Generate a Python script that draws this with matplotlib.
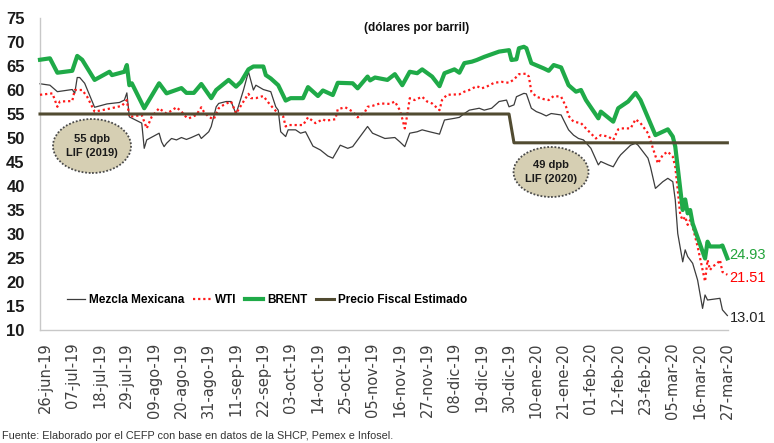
import matplotlib
matplotlib.use("Agg")
import matplotlib.pyplot as plt
from matplotlib.patches import Ellipse
from matplotlib import font_manager
import pandas as pd

# ---------------- data ----------------
brent_dates = ['2019-06-24','2019-06-28','2019-07-01','2019-07-07','2019-07-09','2019-07-11','2019-07-16',
 '2019-07-22','2019-07-23','2019-07-28','2019-07-29','2019-07-30','2019-07-31','2019-08-05','2019-08-11',
 '2019-08-14','2019-08-20','2019-08-22','2019-08-25','2019-08-28','2019-09-01','2019-09-03','2019-09-08',
 '2019-09-11','2019-09-13','2019-09-16','2019-09-18','2019-09-22','2019-09-23','2019-09-25','2019-09-28',
 '2019-10-01','2019-10-03','2019-10-08','2019-10-10','2019-10-14','2019-10-16','2019-10-20','2019-10-22',
 '2019-10-28','2019-10-30','2019-11-03','2019-11-04','2019-11-06','2019-11-11','2019-11-14','2019-11-17',
 '2019-11-20','2019-11-23','2019-11-25','2019-11-29','2019-12-02','2019-12-04','2019-12-08','2019-12-10',
 '2019-12-12','2019-12-15','2019-12-17','2019-12-20','2019-12-26','2019-12-30','2019-12-31','2020-01-02',
 '2020-01-03','2020-01-05','2020-01-06','2020-01-08','2020-01-13','2020-01-15','2020-01-17','2020-01-20',
 '2020-01-23','2020-01-26','2020-01-28','2020-01-30','2020-02-04','2020-02-05','2020-02-10','2020-02-12',
 '2020-02-16','2020-02-19','2020-02-21','2020-02-27','2020-03-03','2020-03-05','2020-03-06','2020-03-09',
 '2020-03-10','2020-03-11','2020-03-12','2020-03-13','2020-03-18','2020-03-19','2020-03-20','2020-03-24',
 '2020-03-25','2020-03-27']
brent_vals = [66.3,66.6,63.6,64.0,67.1,66.3,62.1,
 63.8,63.1,63.8,65.2,61.0,61.4,56.2,61.4,
 59.3,60.4,59.4,59.4,61.25,58.3,60.0,62.1,
 60.7,61.7,64.3,64.9,64.9,63.1,62.4,61.0,
 57.8,58.3,58.3,60.6,58.75,59.9,58.95,61.5,
 61.4,60.35,62.8,62.0,62.6,62.1,63.3,61.0,
 63.8,63.5,64.3,62.8,60.8,63.5,64.3,63.6,
 65.6,65.9,66.25,66.9,68.0,68.3,66.25,66.4,
 68.7,69.0,68.7,65.6,64.5,64.0,65.2,64.7,
 61.0,59.65,60.0,57.9,54.1,55.5,53.4,56.2,
 57.6,59.4,57.9,50.6,51.8,50.3,48.2,35.0,
 37.2,34.3,35.0,32.2,24.9,28.4,27.4,27.4,
 27.6,24.93]

wti_dates = ['2019-06-24','2019-06-29','2019-07-01','2019-07-02','2019-07-07','2019-07-08','2019-07-11',
 '2019-07-13','2019-07-16','2019-07-21','2019-07-27','2019-07-29','2019-07-30','2019-08-04','2019-08-06',
 '2019-08-08','2019-08-11','2019-08-12','2019-08-14','2019-08-16','2019-08-18','2019-08-20','2019-08-22',
 '2019-08-23','2019-08-26','2019-08-28','2019-08-29','2019-08-31','2019-09-02','2019-09-04','2019-09-06',
 '2019-09-08','2019-09-09','2019-09-10','2019-09-11','2019-09-14','2019-09-16','2019-09-17','2019-09-19',
 '2019-09-22','2019-09-24','2019-09-26','2019-09-28','2019-09-30','2019-10-01','2019-10-02','2019-10-08',
 '2019-10-10','2019-10-11','2019-10-13','2019-10-16','2019-10-17','2019-10-21','2019-10-22','2019-10-25',
 '2019-10-28','2019-10-30','2019-11-02','2019-11-03','2019-11-05','2019-11-08','2019-11-12','2019-11-14',
 '2019-11-16','2019-11-17','2019-11-18','2019-11-19','2019-11-20','2019-11-22','2019-11-25','2019-11-27',
 '2019-11-29','2019-12-02','2019-12-03','2019-12-05','2019-12-10','2019-12-12','2019-12-14','2019-12-17',
 '2019-12-19','2019-12-21','2019-12-24','2019-12-27','2019-12-30','2020-01-01','2020-01-03','2020-01-06',
 '2020-01-07','2020-01-08','2020-01-10','2020-01-13','2020-01-15','2020-01-17','2020-01-20','2020-01-22',
 '2020-01-23','2020-01-25','2020-01-28','2020-01-30','2020-02-03','2020-02-05','2020-02-08','2020-02-10',
 '2020-02-12','2020-02-13','2020-02-17','2020-02-19','2020-02-21','2020-02-24','2020-02-26','2020-02-28',
 '2020-03-01','2020-03-03','2020-03-05','2020-03-06','2020-03-07','2020-03-08','2020-03-09','2020-03-10',
 '2020-03-11','2020-03-12','2020-03-13','2020-03-15','2020-03-18','2020-03-19','2020-03-20','2020-03-21',
 '2020-03-23','2020-03-24','2020-03-25','2020-03-27']
wti_vals = [59.0,59.3,56.5,57.6,57.7,60.0,60.0,
 58.6,55.5,56.0,56.7,57.9,54.4,54.8,52.0,
 54.4,56.2,55.8,55.1,55.7,56.4,55.5,54.3,
 54.1,54.8,56.4,55.5,54.4,53.9,56.2,56.9,
 57.4,57.6,56.4,55.1,57.6,59.2,58.3,58.3,
 58.75,57.4,56.2,55.1,54.5,52.4,52.7,52.7,
 54.3,53.9,53.1,53.9,53.6,53.9,56.0,56.4,
 55.5,54.3,55.5,56.5,56.7,57.2,57.1,57.6,
 55.8,54.0,52.0,54.8,58.3,57.9,58.6,57.6,
 57.2,55.8,57.9,59.0,59.1,59.65,60.0,60.8,
 60.35,60.7,61.5,61.7,61.5,62.2,63.3,63.4,
 62.8,59.65,58.6,58.1,57.9,58.75,58.6,56.5,
 54.6,53.4,53.1,52.0,49.9,50.6,50.3,49.6,
 51.8,52.0,52.0,53.9,53.1,51.0,47.85,44.7,
 46.5,47.15,46.1,44.0,39.2,34.0,32.9,33.6,
 31.9,32.9,31.5,27.4,20.1,24.6,22.5,23.2,
 23.9,24.6,22.1,21.51]

mezcla_dates = ['2019-06-24','2019-06-28','2019-07-01','2019-07-07','2019-07-08','2019-07-09','2019-07-10',
 '2019-07-12','2019-07-16','2019-07-21','2019-07-26','2019-07-28','2019-07-29','2019-07-30','2019-08-04',
 '2019-08-05','2019-08-06','2019-08-11','2019-08-12','2019-08-13','2019-08-14','2019-08-16','2019-08-18',
 '2019-08-20','2019-08-22','2019-08-24','2019-08-27','2019-08-28','2019-08-31','2019-09-01','2019-09-03',
 '2019-09-04','2019-09-07','2019-09-09','2019-09-11','2019-09-14','2019-09-16','2019-09-18','2019-09-19',
 '2019-09-22','2019-09-25','2019-09-27','2019-09-28','2019-09-29','2019-10-01','2019-10-02','2019-10-05',
 '2019-10-07','2019-10-09','2019-10-10','2019-10-12','2019-10-15','2019-10-18','2019-10-20','2019-10-23',
 '2019-10-26','2019-10-28','2019-10-30','2019-11-03','2019-11-05','2019-11-10','2019-11-14','2019-11-16',
 '2019-11-18','2019-11-20','2019-11-23','2019-11-25','2019-11-28','2019-12-02','2019-12-04','2019-12-08',
 '2019-12-10','2019-12-12','2019-12-14','2019-12-18','2019-12-20','2019-12-23','2019-12-26','2019-12-29',
 '2019-12-30','2020-01-01','2020-01-02','2020-01-05','2020-01-06','2020-01-08','2020-01-10','2020-01-12',
 '2020-01-14','2020-01-16','2020-01-20','2020-01-21','2020-01-23','2020-01-25','2020-01-27','2020-01-29',
 '2020-02-01','2020-02-04','2020-02-05','2020-02-08','2020-02-10','2020-02-12','2020-02-13','2020-02-17',
 '2020-02-19','2020-02-20','2020-02-24','2020-02-25','2020-02-27','2020-03-01','2020-03-03','2020-03-05',
 '2020-03-06','2020-03-07','2020-03-09','2020-03-10','2020-03-11','2020-03-13','2020-03-15','2020-03-17',
 '2020-03-18','2020-03-19','2020-03-24','2020-03-25','2020-03-27']
mezcla_vals = [61.3,61.0,59.65,60.1,59.3,62.6,62.6,
 61.4,56.4,57.1,57.4,57.9,59.4,54.4,53.1,
 47.85,49.6,51.0,49.2,48.2,48.9,49.9,49.6,
 50.1,49.7,50.1,50.8,49.9,51.3,52.4,56.5,
 57.2,57.6,57.6,55.0,60.0,63.8,60.0,61.0,
 60.1,59.65,56.5,55.8,51.3,50.3,51.7,51.7,
 51.0,51.3,50.3,48.3,47.5,46.25,45.8,48.5,
 47.85,48.2,49.6,52.4,51.0,49.9,50.1,49.2,
 48.2,51.0,51.3,51.7,51.3,50.8,53.75,54.1,
 54.3,55.1,55.8,56.2,55.8,56.2,57.6,57.9,
 56.5,56.9,58.6,59.3,59.2,56.2,55.5,55.1,
 54.6,55.1,54.8,53.75,51.7,50.6,49.9,49.6,
 47.85,44.4,45.1,44.4,44.0,45.8,46.5,48.5,
 48.9,48.5,45.8,44.0,39.5,40.9,41.6,40.9,
 37.1,30.1,24.2,26.7,25.3,23.9,20.4,14.5,
 17.3,16.25,16.6,14.2,13.01]

fiscal_dates = ['2019-06-24', '2019-12-30', '2020-01-01', '2020-03-27']
fiscal_vals = [55, 55, 49, 49]

tick_labels = ['26-jun-19','07-jul-19','18-jul-19','29-jul-19','09-ago-19','20-ago-19','31-ago-19',
 '11-sep-19','22-sep-19','03-oct-19','14-oct-19','25-oct-19','05-nov-19','16-nov-19','27-nov-19',
 '08-dic-19','19-dic-19','30-dic-19','10-ene-20','21-ene-20','01-feb-20','12-feb-20','23-feb-20',
 '05-mar-20','16-mar-20','27-mar-20']

# ---------------- fonts ----------------
avail = {f.name for f in font_manager.fontManager.ttflist}
if 'Liberation Sans Narrow' in avail:
    NARROW, K = 'Liberation Sans Narrow', 1.15
else:
    NARROW, K = 'Liberation Sans', 1.0

plt.rcParams['font.family'] = ['DejaVu Sans']

fig = plt.figure(figsize=(7.74, 4.43), dpi=100)
ax = fig.add_axes([40/774, 1-330/443, 688/774, 312/443])

c_brent = '#1faa48'
c_wti = '#ff1a1a'
c_mez = '#3c3c3c'
c_fis = '#514b31'

bd = pd.to_datetime(brent_dates)
wd = pd.to_datetime(wti_dates)
md = pd.to_datetime(mezcla_dates)
fd = pd.to_datetime(fiscal_dates)

ax.plot(md, mezcla_vals, color=c_mez, lw=0.9, label='Mezcla Mexicana', zorder=2)
ax.plot(wd, wti_vals, color=c_wti, lw=1.6, linestyle=(0, (1, 1.3)), label='WTI', zorder=3)
ax.plot(bd, brent_vals, color=c_brent, lw=3.0, label='BRENT', zorder=4, solid_joinstyle='round')
ax.plot(fd, fiscal_vals, color=c_fis, lw=2.2, label='Precio Fiscal Estimado', zorder=5)

ax.set_ylim(10, 75)
ax.set_xlim(pd.Timestamp('2019-06-24'), pd.Timestamp('2020-03-27 06:00'))
ax.set_yticks(range(10, 76, 5))
ax.set_yticklabels([str(v) for v in range(10, 76, 5)], fontfamily=NARROW,
                   fontweight='bold', fontsize=12 * (1.0 if K == 1.0 else 1.05), color='#1a1a1a')
ticks = pd.date_range('2019-06-26', periods=len(tick_labels), freq='11D')
ax.set_xticks(ticks)
ax.set_xticklabels(tick_labels, rotation=90, fontsize=10.5, color='#404040',
                   fontfamily='DejaVu Sans')
ax.tick_params(axis='both', length=0)
ax.tick_params(axis='x', pad=9)
ax.tick_params(axis='y', pad=11)
for s in ['top', 'right']:
    ax.spines[s].set_visible(False)
for s in ['left', 'bottom']:
    ax.spines[s].set_color('#c8c8c8')
    ax.spines[s].set_linewidth(1.0)

# legend
leg = ax.legend(loc='center left', bbox_to_anchor=(0.031, 0.096), ncol=4, frameon=False,
                handlelength=1.5, handletextpad=0.35, columnspacing=0.75, borderpad=0,
                prop={'family': NARROW, 'weight': 'bold', 'size': 8.5 * K})

# title
fig.text(417/774, 1-28/443, '(dólares por barril)', ha='center', va='center',
         fontfamily=NARROW, fontweight='bold', fontsize=8.5 * K, color='#111111')

# ellipses
for (cx, cy, w, h, txt) in [(92, 146, 78, 54, '55 dpb\nLIF (2019)'), (551, 172, 75, 50, '49 dpb\nLIF (2020)')]:
    e = Ellipse(((cx-40)/688, (330-cy)/312), w/688, h/312, transform=ax.transAxes,
                facecolor='#d6cfb3', edgecolor='#4a4a4a', lw=1.3, linestyle=(0, (1, 1)), zorder=6)
    ax.add_patch(e)
    ax.text((cx-40)/688, (330-cy)/312, txt, transform=ax.transAxes, ha='center', va='center',
            fontfamily=NARROW, fontweight='bold', fontsize=8 * K, linespacing=1.6, color='#1a1a1a', zorder=7)

# end labels
ax.annotate(f'{brent_vals[-1]:.2f}', (bd[-1], brent_vals[-1]), xytext=(2, 3), textcoords='offset pixels',
            ha='left', va='center', color='#22a33a', fontfamily=NARROW, fontsize=10.5 * K, annotation_clip=False)
ax.annotate(f'{wti_vals[-1]:.2f}', (wd[-1], wti_vals[-1]), xytext=(2, -3), textcoords='offset pixels',
            ha='left', va='center', color='#ff0000', fontfamily=NARROW, fontsize=10.5 * K, annotation_clip=False)
ax.annotate(f'{mezcla_vals[-1]:.2f}', (md[-1], mezcla_vals[-1]), xytext=(2, -2), textcoords='offset pixels',
            ha='left', va='center', color='#222222', fontfamily=NARROW, fontsize=10.5 * K, annotation_clip=False)

for ln in ax.get_lines():
    ln.set_clip_on(False)

fig.text(2/774, 1-436/443, 'Fuente: Elaborado por el CEFP con base en datos de la SHCP, Pemex e Infosel.',
         ha='left', va='center', fontfamily=NARROW, fontsize=7.8 * K, color='#333333')

fig.savefig('out.png', dpi=100)
